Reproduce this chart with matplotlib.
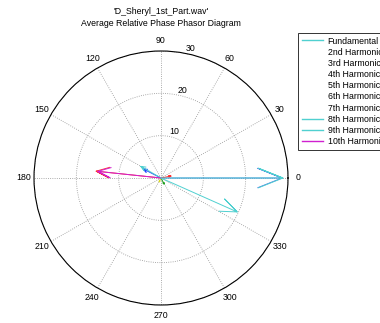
import numpy as np
import matplotlib
matplotlib.use("Agg")
import matplotlib.pyplot as plt
from matplotlib.lines import Line2D

plt.rcParams['font.family'] = ['Liberation Sans', 'DejaVu Sans']

# phasor data (angle in degrees, magnitude)
labels = ['Fundamental', '2nd Harmonic', '3rd Harmonic', '4th Harmonic',
          '5th Harmonic', '6th Harmonic', '7th Harmonic', '8th Harmonic',
          '9th Harmonic', '10th Harmonic']
angles = [0, 0, 11, -63, -115, 174, 153, -24, 150, 174]
magnitudes = [28.8, 28.6, 2.4, 1.6, 1.0, 15.4, 4.7, 19.7, 5.5, 15.0]
colors = ['#50d0d0', '#5070e8', '#ff3030', '#20a020', '#d8d820',
          '#ff3030', '#2040ff', '#50d0d0', '#50d0d0', '#d020d0']
legend_colors = ['#50d0d0', 'none', 'none', 'none', 'none', 'none', 'none',
                 '#50d0d0', '#50d0d0', '#d020d0']


def main():
    fig = plt.figure(figsize=(3.8, 3.23), dpi=100)
    ax = fig.add_axes([34 / 380, 18 / 323, 254 / 380, 254 / 323], projection='polar')

    # compass style arrows: 0 -> z, head at .8z +/- .08iz
    xx = np.array([0, 1, .8, 1, .8])
    yy = np.array([0, 0, .08, 0, -.08])
    arrow = xx + 1j * yy
    for i, (ang, mag, col) in enumerate(zip(angles, magnitudes, colors)):
        z = mag * np.exp(1j * np.deg2rad(ang))
        pts = arrow * z
        # fundamental on top
        ax.plot(np.angle(pts), np.abs(pts), color=col, lw=0.7, zorder=3 if i == 0 else 2)

    ax.set_ylim(0, 30)
    ax.set_rticks([10, 20, 30])
    ax.set_yticklabels(['10', '20', '30'], fontsize=6.3)
    ax.set_rlabel_position(79)
    ax.set_thetagrids(range(0, 360, 30), [str(a) for a in range(0, 360, 30)], fontsize=6.3)
    ax.tick_params(axis='x', pad=-3)
    ax.grid(True, color='#909090', linestyle=':', linewidth=0.6)
    ax.spines['polar'].set_color('black')
    ax.spines['polar'].set_linewidth(0.8)

    fig.text(161 / 380, 1 - 12 / 323, "'D_Sheryl_1st_Part.wav'", ha='center', va='center', fontsize=6.3)
    fig.text(161 / 380, 1 - 23 / 323, "Average Relative Phase Phasor Diagram", ha='center', va='center', fontsize=6.3)

    handles = [Line2D([], [], color=c, lw=1) for c in legend_colors]
    fig.legend(handles, labels, loc='upper left', bbox_to_anchor=(298 / 380, 1 - 33 / 323),
               fontsize=6.3, frameon=True, fancybox=False, edgecolor='black',
               handlelength=2.4, handletextpad=0.6, labelspacing=0.25,
               borderpad=0.4, borderaxespad=0).get_frame().set_linewidth(0.7)

    fig.savefig('out.png', dpi=100)


if __name__ == "__main__":
    main()
